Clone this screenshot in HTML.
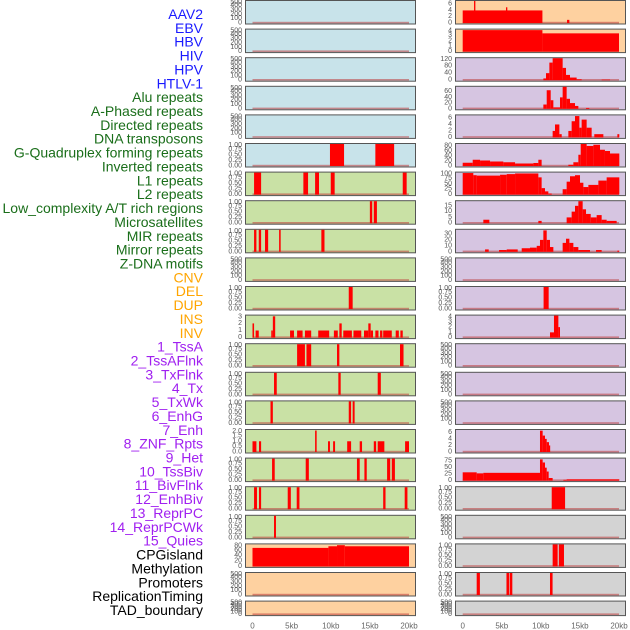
<!DOCTYPE html>
<html><head><meta charset="utf-8">
<style>
html,body{margin:0;padding:0;background:#fff;}
svg{display:block;font-family:"Liberation Sans",sans-serif;}
</style></head>
<body>
<svg id="chart" width="630" height="630" viewBox="0 0 630 630"></svg>
<script>
// ---------- DATA ----------
const trackLabels = ["AAV2","EBV","HBV","HIV","HPV","HTLV-1","Alu repeats","A-Phased repeats","Directed repeats","DNA transposons","G-Quadruplex forming repeats","Inverted repeats","L1 repeats","L2 repeats","Low_complexity A/T rich regions","Microsatellites","MIR repeats","Mirror repeats","Z-DNA motifs","CNV","DEL","DUP","INS","INV","1_TssA","2_TssAFlnk","3_TxFlnk","4_Tx","5_TxWk","6_EnhG","7_Enh","8_ZNF_Rpts","9_Het","10_TssBiv","11_BivFlnk","12_EnhBiv","13_ReprPC","14_ReprPCWk","15_Quies","CPGisland","Methylation","Promoters","ReplicationTiming","TAD_boundary"];
const labelColors = ["#1a1aff","#1a1aff","#1a1aff","#1a1aff","#1a1aff","#1a1aff",
 "#1a6e1a","#1a6e1a","#1a6e1a","#1a6e1a","#1a6e1a","#1a6e1a","#1a6e1a","#1a6e1a","#1a6e1a","#1a6e1a","#1a6e1a","#1a6e1a","#1a6e1a",
 "#ffa500","#ffa500","#ffa500","#ffa500","#ffa500",
 "#a020f0","#a020f0","#a020f0","#a020f0","#a020f0","#a020f0","#a020f0","#a020f0","#a020f0","#a020f0","#a020f0","#a020f0","#a020f0","#a020f0","#a020f0",
 "#000","#000","#000","#000","#000"];
const xTickValues = [0,5,10,15,20];
const xTickLabels = ["0","5kb","10kb","15kb","20kb"];

const T500 = ["0","100","200","300","400","500"];
const T1 = ["0.00","0.25","0.50","0.75","1.00"];

// left column: segments [startKb, endKb, value]
const leftSegs = [
 [],[],[],[],[],
 [[9.9,11.7,1],[15.7,18.1,1]],
 [[0.2,1.1,1],[6.5,7.1,1],[8.0,8.5,1],[10.0,10.5,1],[19.2,19.7,1]],
 [[15.0,15.3,1],[15.5,15.9,1]],
 [[0.2,0.5,1],[0.8,1.1,1],[1.6,2.0,1],[3.4,3.6,1],[8.8,9.2,1]],
 [],
 [[12.3,12.8,1]],
 [[0,0.2,2],[0.4,0.8,1],[2.4,2.6,1],[2.6,2.9,3],[4.8,5.3,1],[5.7,6.4,1],[6.7,7.5,1],[8.4,9.8,1],[10.4,10.9,1],[11.1,11.4,2],[11.6,12.7,1],[12.9,13.9,1],[14.25,14.8,1],[14.8,15.1,2],[15.1,15.4,1],[15.7,16.1,1],[16.3,16.6,1],[16.7,17.8,1],[18.3,18.7,1],[18.9,19.2,1]],
 [[5.7,6.7,1],[6.9,7.5,1],[10.8,11.1,1],[18.85,19.3,1]],
 [[2.75,3.1,1],[10.97,11.27,1],[16.0,16.4,1]],
 [[2.3,2.6,1],[12.3,12.6,1],[12.8,13.05,1]],
 [[0,0.5,1],[0.83,1.1,1],[8.0,8.2,2],[9.65,9.9,1],[10.3,10.55,1],[12.1,12.6,1],[13.7,14.0,1],[15.5,15.8,1],[16.0,16.85,1],[19.5,20.0,1]],
 [[2.5,2.84,1],[6.8,7.2,1],[13.35,13.7,1],[14.3,14.6,1],[17.2,17.6,1],[17.8,18.2,1]],
 [[0.2,0.57,1],[0.83,1.1,1],[4.5,4.9,1],[5.65,6.0,1],[16.7,17.0,1],[19.45,19.8,1]],
 [[2.75,3.0,1]],
 [[0,9.7,69],[9.7,10.8,75],[10.8,11.8,79],[11.8,20,75]],
 [],[]
];
const leftMax = [510,510,510,510,510,1,1,1,1,510,1,3.1,1,1,1,2.05,1,1,1,82,510,510];
const leftTicks = [T500,T500,T500,T500,T500,T1,T1,T1,T1,T500,T1,["0","1","2","3"],T1,T1,T1,["0.0","0.5","1.0","1.5","2.0"],T1,T1,T1,["0","20","40","60","80"],T500,T500];
const leftColors = ["#c8e3ea","#c8e3ea","#c8e3ea","#c8e3ea","#c8e3ea","#c8e3ea","#c9e1a5","#c9e1a5","#c9e1a5","#c9e1a5","#c9e1a5","#c9e1a5","#c9e1a5","#c9e1a5","#c9e1a5","#c9e1a5","#c9e1a5","#c9e1a5","#c9e1a5","#fed1a0","#fed1a0","#fed1a0"];

// right column
const rightSegs = [
 [[0,10.2,4],[1.45,1.62,7],[5.54,5.71,5],[13.35,13.65,1]],
 [[0,10.2,4],[10.2,20,3.4]],
 [[10.32,10.66,10],[10.66,11.09,40],[11.09,11.51,100],[11.51,12.79,125],[12.79,13.22,70],[13.22,13.73,30],[13.73,14.58,15],[14.58,15.22,5],[17.78,18.85,3]],
 [[10.32,10.75,15],[10.75,11.26,65],[11.26,11.6,30],[11.6,12.45,5],[12.45,12.79,40],[12.79,13.3,77],[13.3,13.73,35],[13.73,14.37,20],[14.37,14.8,10],[15.78,16.2,3]],
 [[11.51,11.81,2],[11.81,12.37,4],[12.37,12.67,1],[13.52,13.94,2],[13.94,14.37,5],[14.37,14.93,6.6],[14.93,15.22,3],[15.22,15.86,5.5],[15.86,16.5,3],[16.84,18.0,1],[19.79,20.04,1]],
 [[0,1.28,13],[1.28,2.22,25],[2.22,3.5,22],[3.5,5.2,18],[5.2,6.7,15],[6.7,9.04,10],[9.04,9.68,12],[9.68,10.1,25],[13.52,14.16,5],[14.16,14.8,15],[14.8,15.1,45],[15.1,15.86,88],[15.86,16.72,80],[16.72,17.57,85],[17.57,18.2,65],[18.2,18.85,60],[18.85,20.04,50]],
 [[0,1.36,100],[1.36,1.79,90],[1.79,4.78,88],[4.78,5.63,92],[5.63,6.7,95],[6.7,9.68,98],[9.68,10.1,80],[10.1,10.53,30],[10.53,10.96,15],[10.96,11.39,5],[12.79,13.3,25],[13.3,13.73,60],[13.73,14.37,85],[14.37,15.01,90],[15.01,15.44,55],[15.44,16.08,35],[16.08,17.36,45],[17.36,18.42,65],[18.42,20.04,80]],
 [[2.64,3.41,3],[9.68,10.1,2],[13.3,13.94,5],[13.94,14.37,10],[14.37,14.8,15],[14.8,15.35,19],[15.35,15.78,12],[15.78,16.38,8],[16.38,17.14,5],[17.14,17.78,7],[17.78,18.42,3],[18.42,19.7,2]],
 [[2.86,3.33,4],[4.65,5.63,3],[5.63,7.04,4],[7.55,8.61,6],[8.61,9.47,7],[9.47,9.89,10],[9.89,10.32,20],[10.32,10.75,36],[10.75,11.17,20],[11.17,11.6,8],[12.79,13.22,15],[13.22,13.65,22],[13.65,14.16,15],[14.16,14.8,8],[14.8,16.29,3],[17.06,17.78,3],[19.79,20.04,2]],
 [],
 [[10.35,11.0,1]],
 [[11.17,11.68,1],[11.68,12.24,4.2],[12.24,12.45,2]],
 [],[],[],
 [[9.89,10.23,6.5],[10.23,10.53,5],[10.53,10.75,4],[10.75,11.04,3],[11.04,11.17,2]],
 [[0,1.79,32],[1.79,2.64,28],[2.64,9.89,30],[9.89,10.23,82],[10.23,10.53,70],[10.53,10.75,50],[10.75,11.0,35],[11.0,11.51,10],[12.88,13.3,3],[13.3,20.04,5]],
 [[11.39,13.1,1]],
 [],
 [[11.51,12.15,1],[12.3,12.96,1]],
 [[1.79,2.2,1],[5.6,5.97,1],[6.05,6.35,1],[11.17,11.5,1]],
 []
];
const rightMax = [7,4.1,125,77,6.8,88,102,19,37,510,1,4.2,510,510,510,6.7,85,1,510,1,1,510];
const rightTicks = [["0","2","4","6"],["0","1","2","3","4"],["0","40","80","120"],["0","20","40","60"],["0","2","4","6"],["0","20","40","60","80"],["0","25","50","75","100"],["0","5","10","15"],["0","10","20","30"],T500,T1,["0","1","2","3","4"],T500,T500,T500,["0","2","4","6"],["0","25","50","75"],T1,T500,T1,T1,T500];
const rightColors = ["#fed1a0","#fed1a0","#d6c5e1","#d6c5e1","#d6c5e1","#d6c5e1","#d6c5e1","#d6c5e1","#d6c5e1","#d6c5e1","#d6c5e1","#d6c5e1","#d6c5e1","#d6c5e1","#d6c5e1","#d6c5e1","#d6c5e1","#d3d3d3","#d3d3d3","#d3d3d3","#d3d3d3","#d3d3d3"];

// ---------- DRAW ----------
const NS = "http://www.w3.org/2000/svg";
const svg = document.getElementById("chart");
function mk(tag, attrs, parent){
  const e = document.createElementNS(NS, tag);
  for (const k in attrs) e.setAttribute(k, attrs[k]);
  (parent||svg).appendChild(e);
  return e;
}
const cols = [
  {px0:245, px1:416, x0:252.5, x20:409, tickX:242, segs:leftSegs, max:leftMax, ticks:leftTicks, colors:leftColors, name:"left"},
  {px0:455, px1:626, x0:462.7, x20:619, tickX:452, segs:rightSegs, max:rightMax, ticks:rightTicks, colors:rightColors, name:"right"}
];
const rowPitch = 28.6;
function rowTop(i){ return i*rowPitch; }
function rowH(i){ return i===21 ? 15.5 : 24.5; }

// labels
trackLabels.forEach((t,i)=>{
  const tx = mk("text",{x:203,y:14+i*13.86,"text-anchor":"end","dominant-baseline":"central","font-size":"14",fill:labelColors[i]});
  tx.textContent = t;
  
  
});

cols.forEach(c=>{
  const xs = kb => c.x0 + (kb/20)*(c.x20 - c.x0);
  for (let i=0;i<22;i++){
    const top = rowTop(i), h = rowH(i), bot = top + h;
    const g = mk("g",{});
    
    
    mk("rect",{x:c.px0+0.5,y:top+0.5,width:c.px1-c.px0-1,height:h-1,fill:c.colors[i],stroke:"#555","stroke-width":1},g);
    const yb = bot - 1.5, yt = top + 1;
    const ys = v => yb - (v/c.max[i])*(yb-yt);
    const base = mk("rect",{x:xs(0),y:yb-1.2,width:xs(20)-xs(0),height:1.6,fill:"rgba(190,60,60,0.55)"},g);
    
    
    c.segs[i].forEach(s=>{
      const y = Math.max(ys(s[2]), top+0.5);
      const r = mk("rect",{x:xs(s[0]),y:y,width:Math.max(xs(s[1])-xs(s[0]),1.2),height:yb-y,fill:"#ff0000"},g);
      
      
    });
    c.ticks[i].forEach(lbl=>{
      const v = parseFloat(lbl);
      const ty = Math.min(Math.max(ys(v), top+2.5), bot-1.5);
      const tt = mk("text",{x:c.tickX,y:ty,"text-anchor":"end","dominant-baseline":"central","font-size":"7",fill:"#555"},g);
      tt.textContent = lbl;
      
      
    });
  }
  xTickValues.forEach((v,k)=>{
    const t = mk("text",{x:xs(v),y:626,"text-anchor":"middle","dominant-baseline":"central","font-size":"8",fill:"#666"});
    t.textContent = xTickLabels[k];
    
    
  });
});
</script>
</body></html>
